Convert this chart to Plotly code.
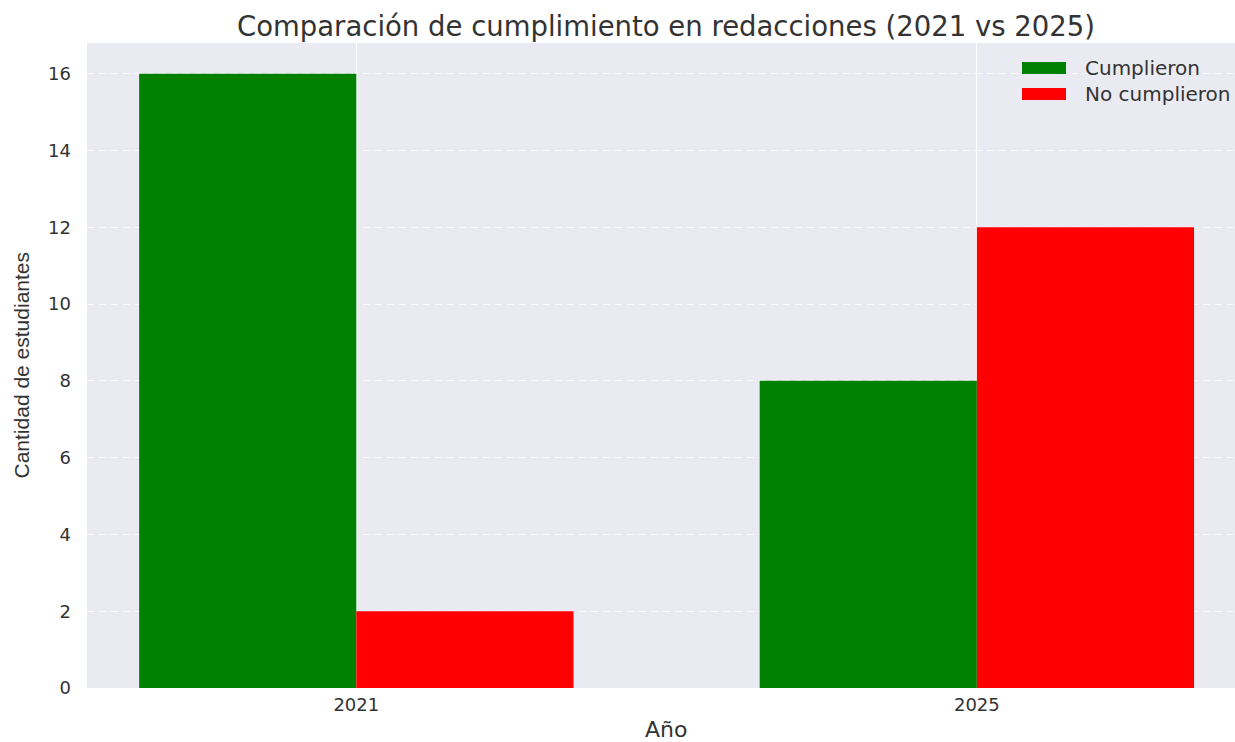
import plotly.graph_objects as go

years = ["2021", "2025"]
cumplieron = [16, 8]
no_cumplieron = [2, 12]
series_names = ["Cumplieron", "No cumplieron"]
series_colors = ["#008000", "#FF0000"]
y_ticks = [0, 2, 4, 6, 8, 10, 12, 14, 16]

W, H = 1235, 742
L, R, T, B = 87, 0, 43, 54
WIDE = "DejaVu Sans, Verdana, sans-serif"
ARIAL = "Liberation Sans, Arial, sans-serif"

fig = go.Figure()
for name, vals, col in zip(series_names, [cumplieron, no_cumplieron], series_colors):
    fig.add_trace(go.Bar(x=years, y=vals, name=name, marker=dict(color=col, line=dict(width=0)),
                         showlegend=False))

fig.update_layout(
    width=W, height=H,
    margin=dict(l=L, r=R, t=T, b=B, pad=0),
    paper_bgcolor="white",
    plot_bgcolor="#EAEAF2",
    barmode="group", bargap=0.3, bargroupgap=0,
    font=dict(family=WIDE, color="#333333"),
    xaxis=dict(type="category", range=[-0.434, 1.416], showgrid=True, gridcolor="white", gridwidth=1,
               zeroline=False, showline=False, ticks="", tickfont=dict(size=18, color="#333333"),
               ticklabelstandoff=4),
    yaxis=dict(range=[0, 16.8], tickvals=y_ticks, showgrid=True, gridcolor="rgba(255,255,255,0.8)",
               griddash="7px,5px", gridwidth=1, zeroline=False, showline=False, ticks="",
               tickfont=dict(size=18, color="#333333"), ticklabelstandoff=15),
)

cx = (666 - L) / (W - L)
# title
fig.add_annotation(text="Comparación de cumplimiento en redacciones (2021 vs 2025)",
                   xref="paper", yref="paper", x=cx, y=1, yshift=17,
                   xanchor="center", yanchor="middle", showarrow=False,
                   font=dict(size=27.5, color="#333333", family=WIDE))
# x axis title
fig.add_annotation(text="Año", xref="paper", yref="paper", x=cx, y=0, yshift=-41,
                   xanchor="center", yanchor="middle", showarrow=False,
                   font=dict(size=22, color="#333333", family=WIDE))
# y axis title
fig.add_annotation(text="Cantidad de estudiantes", xref="paper", yref="paper",
                   x=(21 - L) / (W - L), y=0.5, xanchor="center", yanchor="middle", textangle=-90,
                   showarrow=False, font=dict(size=21, color="#333333", family=ARIAL))

# legend (custom, wide swatches)
pw, ph = W - L, H - T - B
for i, (name, col) in enumerate(zip(series_names, series_colors)):
    yc = 68 + i * 26
    y0 = 1 - (yc + 6 - T) / ph
    y1 = 1 - (yc - 6 - T) / ph
    fig.add_shape(type="rect", xref="paper", yref="paper",
                  x0=(1022 - L) / pw, x1=(1066 - L) / pw, y0=y0, y1=y1,
                  fillcolor=col, line=dict(width=0))
    fig.add_annotation(text=name, xref="paper", yref="paper", x=(1083 - L) / pw,
                       y=1 - (yc - T) / ph, xanchor="left", yanchor="middle", showarrow=False,
                       font=dict(size=20, color="#333333", family=WIDE))

fig.write_html("out.html", config={"displayModeBar": False},
               post_script="document.body.style.margin='0';document.body.style.overflow='hidden';")
